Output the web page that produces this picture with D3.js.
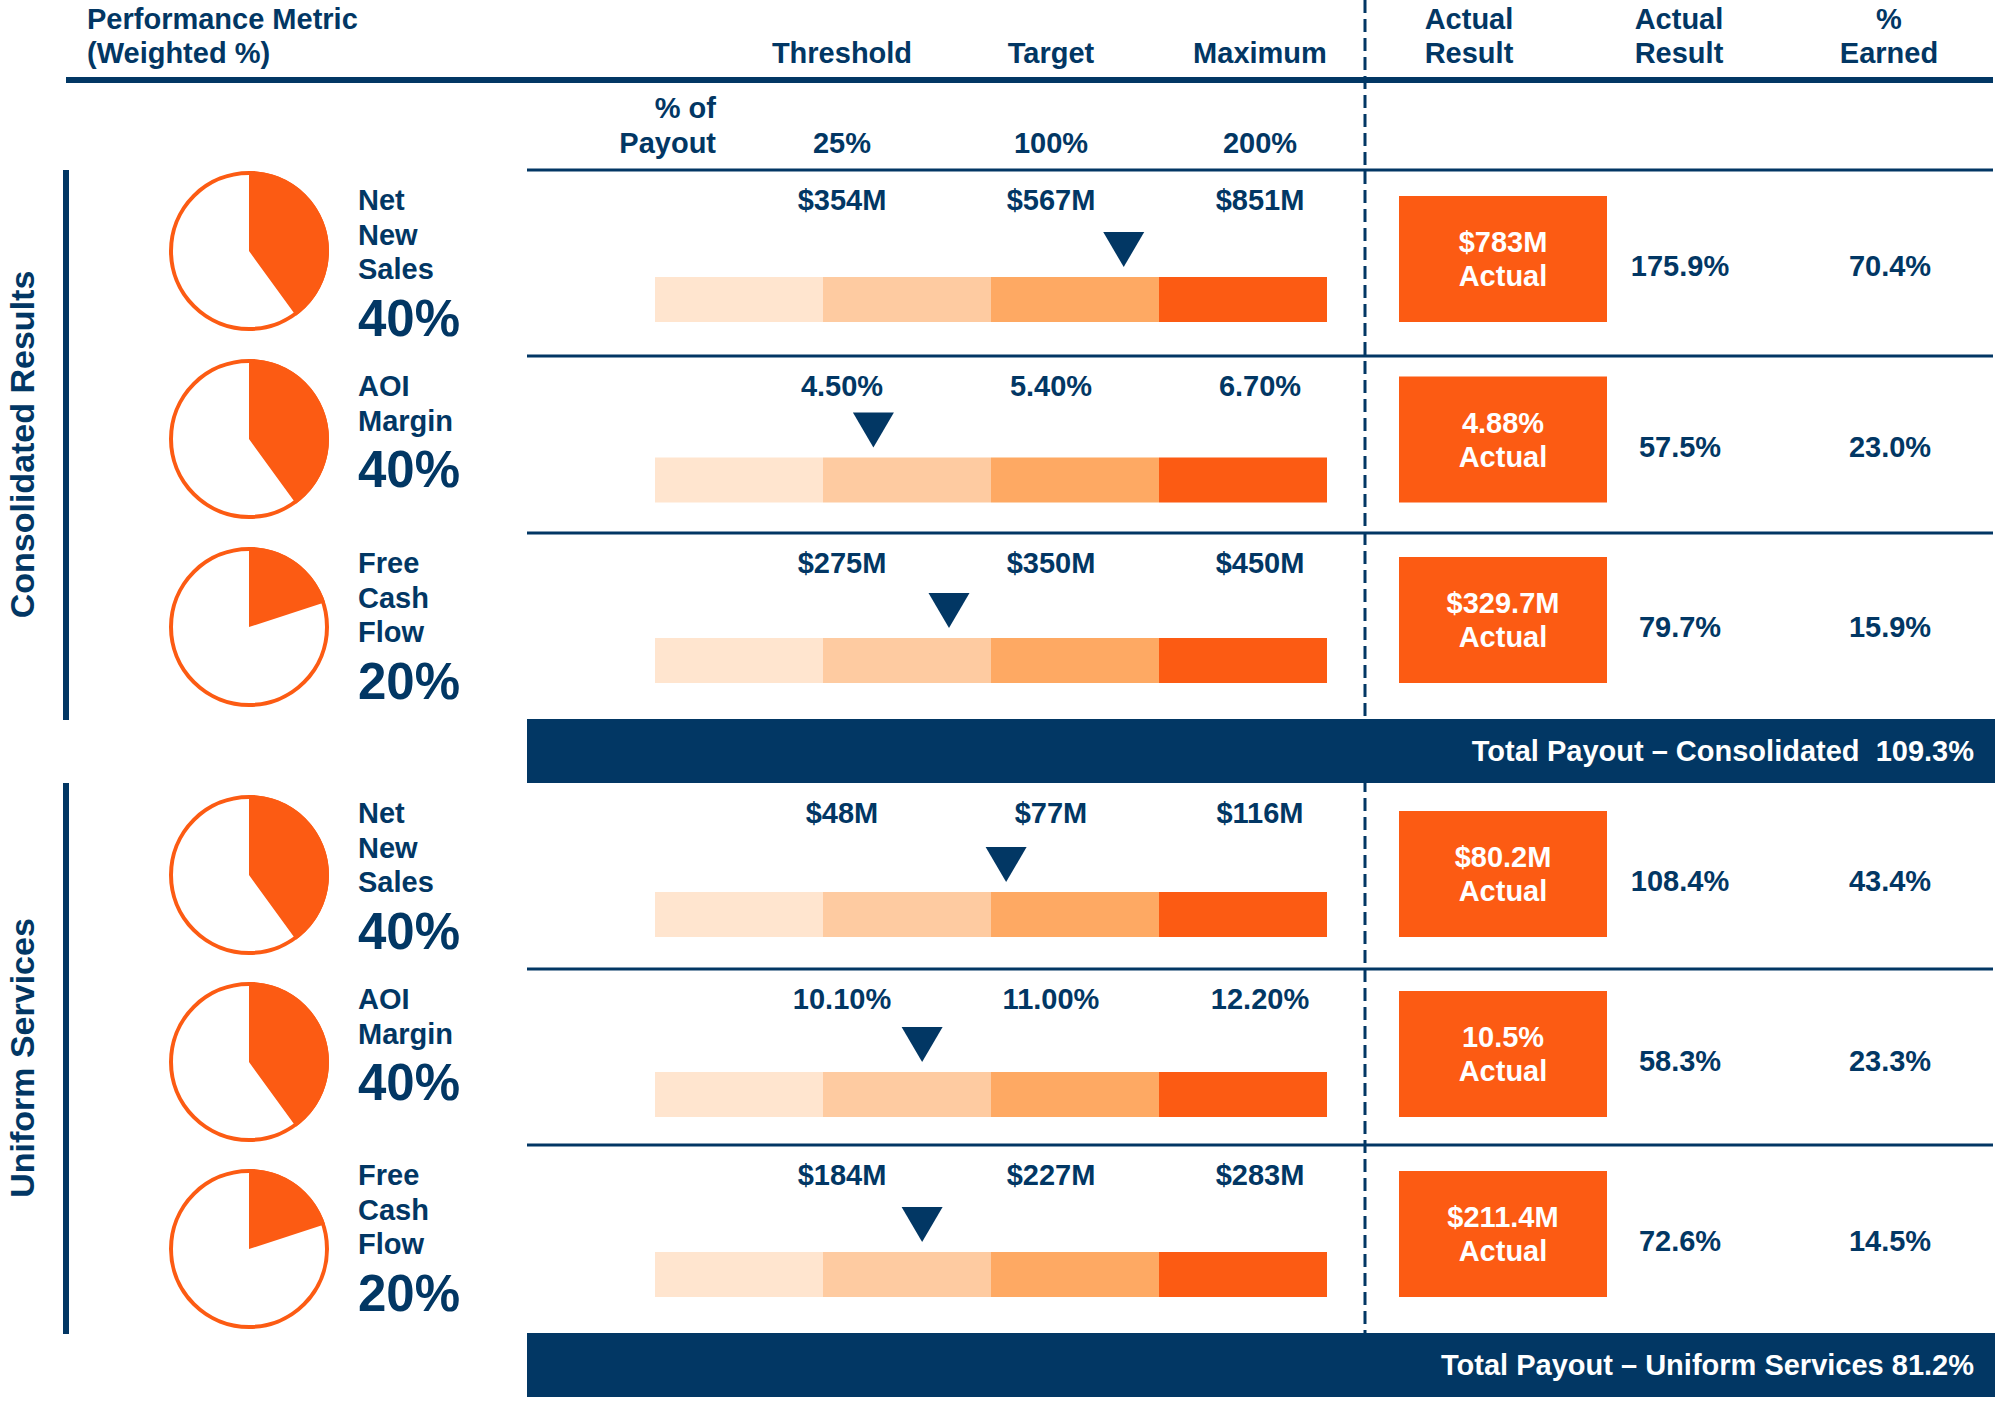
<!DOCTYPE html>
<html><head><meta charset="utf-8">
<script src="https://cdn.jsdelivr.net/npm/d3@7"></script>
<style>
body{margin:0;background:#fff}
svg text{font-family:"Liberation Sans",Arial,sans-serif;font-weight:bold}
</style>
</head><body><svg id="c" width="2000" height="1403"></svg>
<script>
// ---------- data ----------
const sections = ["Consolidated Results", "Uniform Services"];
const metricNames = [["Net","New","Sales"], ["AOI","Margin"], ["Free","Cash","Flow"]];
const weights = [40, 40, 20];
const levelNames = ["Threshold", "Target", "Maximum"];
const payoutLevels = ["25%", "100%", "200%"];
const thresholds = [["$354M","4.50%","$275M"], ["$48M","10.10%","$184M"]];
const targets    = [["$567M","5.40%","$350M"], ["$77M","11.00%","$227M"]];
const maximums   = [["$851M","6.70%","$450M"], ["$116M","12.20%","$283M"]];
const actuals    = [["$783M","4.88%","$329.7M"], ["$80.2M","10.5%","$211.4M"]];
const actualPct  = [[175.9, 57.5, 79.7], [108.4, 58.3, 72.6]];
const earnedPct  = [[70.4, 23.0, 15.9], [43.4, 23.3, 14.5]];
const markerPos  = [[2.79, 1.30, 1.75], [2.09, 1.59, 1.59]]; // position along the 4-band bar
const totals = [109.3, 81.2];
const totalLabels = ["Total Payout \u2013 Consolidated  ", "Total Payout \u2013 Uniform Services "];
const bands = [0, 1, 2, 3];

// ---------- style ----------
const navy = "#023764", orange = "#FC5B13";
const bandColors = ["#FFE5CF", "#FECBA1", "#FEA963", "#FC5B13"];
const fs = 29;
const fmtPct = v => d3.format(".1f")(v) + "%";

// ---------- layout ----------
const layout = [
  {top:170, rowOff:[0,186,363], pie:[251,627], bar:[277,638], total:719},
  {top:783, rowOff:[0,186,362], pie:[875,1249], bar:[892,1252], total:1333}
];
const svg = d3.select("#c");
const colX = d3.scalePoint().domain(levelNames).range([842, 1260]);
const xBar = d3.scaleLinear().domain([0, 4]).range([655, 1327]);
const pie = d3.pie().sort(null);
const arc = d3.arc().innerRadius(0).outerRadius(80);

function txt(g, x, y, s, size, color, anchor) {
  return g.append("text").attr("x", x).attr("y", y).attr("dy", "0.35em")
    .attr("font-size", size).attr("fill", color || navy)
    .attr("text-anchor", anchor || "middle").text(s);
}

// dashed divider
svg.append("line").attr("x1", 1365).attr("x2", 1365).attr("y1", 0).attr("y2", 1333)
  .attr("stroke", navy).attr("stroke-width", 3).attr("stroke-dasharray", "13,6");

// header
txt(svg, 87, 19, "Performance Metric", fs, navy, "start");
txt(svg, 87, 53, "(Weighted %)", fs, navy, "start");
levelNames.forEach(l => txt(svg, colX(l), 53, l, fs));
[["Actual","Result",1469], ["Actual","Result",1679], ["%","Earned",1889]].forEach(h => {
  txt(svg, h[2], 19, h[0], fs);
  txt(svg, h[2], 53, h[1], fs);
});
svg.append("rect").attr("x", 66).attr("y", 77).attr("width", 1927).attr("height", 6).attr("fill", navy);
txt(svg, 716, 108, "% of", fs, navy, "end");
txt(svg, 716, 143, "Payout", fs, navy, "end");
payoutLevels.forEach((p, i) => txt(svg, colX(levelNames[i]), 143, p, fs));
svg.append("rect").attr("x", 527).attr("y", 168.5).attr("width", 1466).attr("height", 3).attr("fill", navy);

// sections
sections.forEach((sec, s) => {
  const L = layout[s];
  const g = svg.append("g");
  const pieY = d3.scalePoint().domain([0,1,2]).range(L.pie);
  const barY = d3.scalePoint().domain([0,1,2]).range(L.bar);

  // section bracket + label
  g.append("rect").attr("x", 63).attr("y", L.top).attr("width", 6).attr("height", L.total + 1 - L.top).attr("fill", navy);
  const cy = (L.top + L.total) / 2;
  g.append("text").attr("transform", `translate(22,${cy}) rotate(-90)`).attr("dy", "0.35em")
    .attr("text-anchor", "middle").attr("font-size", 34).attr("fill", navy).text(sec);

  metricNames.forEach((names, i) => {
    const T = L.top + L.rowOff[i];
    const yText = T + 30;
    const bt = barY(i);
    if (i > 0) g.append("rect").attr("x", 527).attr("y", T - 1.5).attr("width", 1466).attr("height", 3).attr("fill", navy);

    // pie
    const pg = g.append("g").attr("transform", `translate(249,${pieY(i)})`);
    pg.append("circle").attr("r", 78).attr("fill", "#fff").attr("stroke", orange).attr("stroke-width", 4);
    pg.selectAll("path").data(pie([weights[i], 100 - weights[i]])).join("path")
      .attr("d", arc).attr("fill", (d, k) => k === 0 ? orange : "none");

    // metric name + weight
    names.forEach((n, k) => txt(g, 358, yText + k * 34.5, n, fs, navy, "start"));
    txt(g, 358, yText + (names.length - 1) * 34.5 + 49, weights[i] + "%", 51, navy, "start");

    // goal values
    [thresholds, targets, maximums].forEach((arr, k) => txt(g, colX(levelNames[k]), yText, arr[s][i], fs));

    // bands
    g.selectAll(null).data(bands).join("rect")
      .attr("x", b => xBar(b)).attr("y", bt).attr("width", b => xBar(b + 1) - xBar(b)).attr("height", 45)
      .attr("fill", b => bandColors[b]);

    // marker
    const mx = xBar(markerPos[s][i]);
    g.append("path").attr("d", `M${mx - 20.5},${bt - 45}L${mx + 20.5},${bt - 45}L${mx},${bt - 10}Z`).attr("fill", navy);

    // actual box
    const by = bt - 81, bh = 126, bc = by + bh / 2;
    g.append("rect").attr("x", 1399).attr("y", by).attr("width", 208).attr("height", bh).attr("fill", orange);
    txt(g, 1503, bc - 17, actuals[s][i], fs, "#fff");
    txt(g, 1503, bc + 17, "Actual", fs, "#fff");

    txt(g, 1680, bc + 7, fmtPct(actualPct[s][i]), fs);
    txt(g, 1890, bc + 7, fmtPct(earnedPct[s][i]), fs);
  });

  // total bar
  g.append("rect").attr("x", 527).attr("y", L.total).attr("width", 1468).attr("height", 64).attr("fill", navy);
  txt(g, 1974, L.total + 32, totalLabels[s] + fmtPct(totals[s]), fs, "#fff", "end").style("white-space", "pre");
});
</script>
</body></html>
